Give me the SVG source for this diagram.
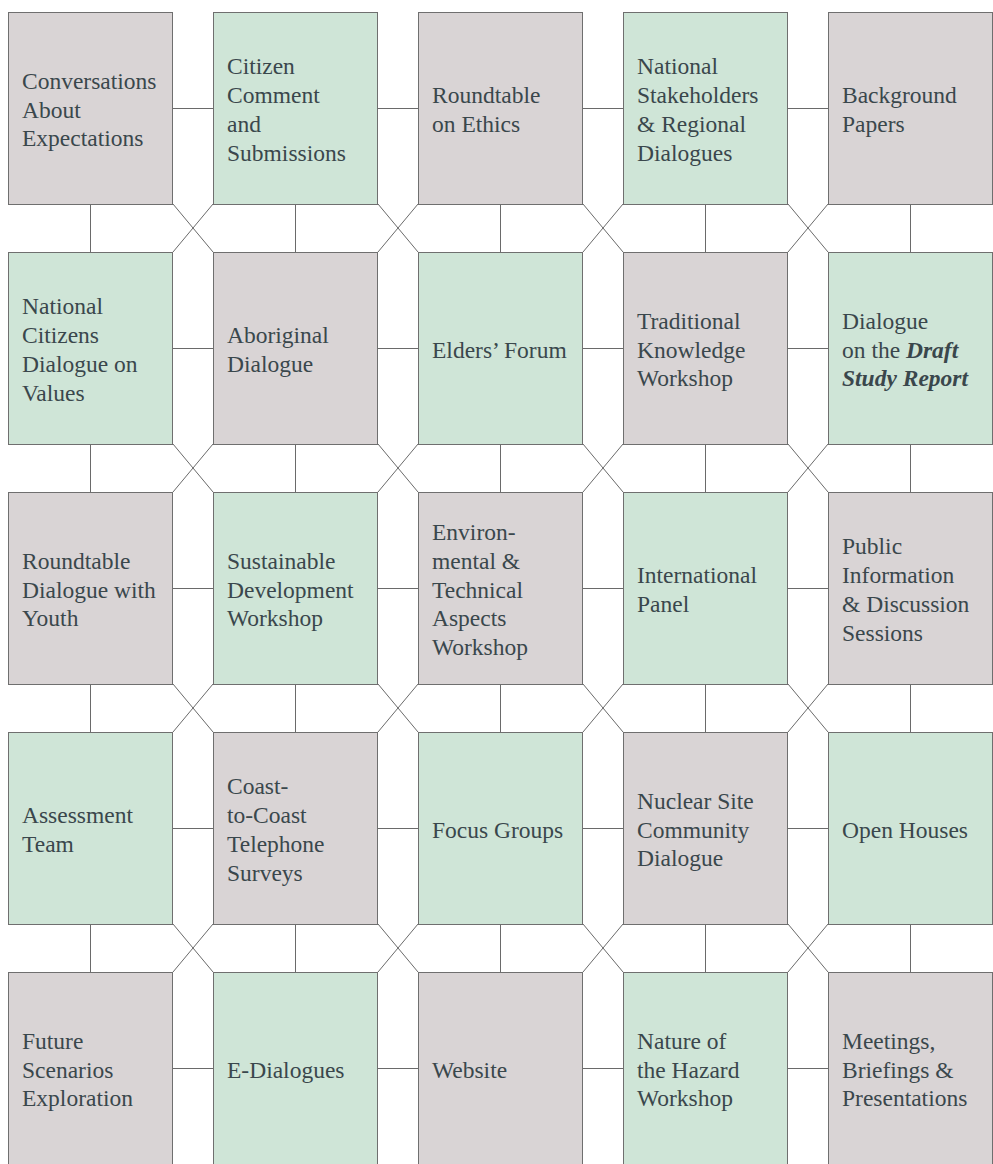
<svg xmlns="http://www.w3.org/2000/svg" width="993" height="1164" viewBox="0 0 993 1164">
<style>
.g{fill:#d9d4d5;stroke:#6f6f6f;stroke-width:1}
.n{fill:#cfe5d7;stroke:#6f6f6f;stroke-width:1}
.c{fill:none;stroke:#6a6a6a;stroke-width:1}
text{font-family:"Liberation Serif","DejaVu Serif",serif;font-size:23.5px;fill:#3a474c}
.bi{font-weight:bold;font-style:italic}
</style>
<rect width="993" height="1164" fill="#ffffff"/>
<g id="connectors" class="c">
<path d="M173 108.5H213M378 108.5H418M583 108.5H623M788 108.5H828
M173 348.5H213M378 348.5H418M583 348.5H623M788 348.5H828
M173 588.5H213M378 588.5H418M583 588.5H623M788 588.5H828
M173 828.5H213M378 828.5H418M583 828.5H623M788 828.5H828
M173 1068.5H213M378 1068.5H418M583 1068.5H623M788 1068.5H828"/>
<path d="M90.5 204V252M295.5 204V252M500.5 204V252M705.5 204V252M910.5 204V252
M90.5 444V492M295.5 444V492M500.5 444V492M705.5 444V492M910.5 444V492
M90.5 684V732M295.5 684V732M500.5 684V732M705.5 684V732M910.5 684V732
M90.5 924V972M295.5 924V972M500.5 924V972M705.5 924V972M910.5 924V972"/>
<path d="M173 204L213 252M213 204L173 252M378 204L418 252M418 204L378 252M583 204L623 252M623 204L583 252M788 204L828 252M828 204L788 252
M173 444L213 492M213 444L173 492M378 444L418 492M418 444L378 492M583 444L623 492M623 444L583 492M788 444L828 492M828 444L788 492
M173 684L213 732M213 684L173 732M378 684L418 732M418 684L378 732M583 684L623 732M623 684L583 732M788 684L828 732M828 684L788 732
M173 924L213 972M213 924L173 972M378 924L418 972M418 924L378 972M583 924L623 972M623 924L583 972M788 924L828 972M828 924L788 972"/>
</g>
<g id="n00"><rect class="g" x="8.5" y="12.5" width="164" height="192"/><text x="22" y="88.7">Conversations<tspan x="22" dy="28.8">About</tspan><tspan x="22" dy="28.8">Expectations</tspan></text></g>
<g id="n01"><rect class="n" x="213.5" y="12.5" width="164" height="192"/><text x="227" y="74.3">Citizen<tspan x="227" dy="28.8">Comment</tspan><tspan x="227" dy="28.8">and</tspan><tspan x="227" dy="28.8">Submissions</tspan></text></g>
<g id="n02"><rect class="g" x="418.5" y="12.5" width="164" height="192"/><text x="432" y="103.1">Roundtable<tspan x="432" dy="28.8">on Ethics</tspan></text></g>
<g id="n03"><rect class="n" x="623.5" y="12.5" width="164" height="192"/><text x="637" y="74.3">National<tspan x="637" dy="28.8">Stakeholders</tspan><tspan x="637" dy="28.8">&amp; Regional</tspan><tspan x="637" dy="28.8">Dialogues</tspan></text></g>
<g id="n04"><rect class="g" x="828.5" y="12.5" width="164" height="192"/><text x="842" y="103.1">Background<tspan x="842" dy="28.8">Papers</tspan></text></g>

<g id="n10"><rect class="n" x="8.5" y="252.5" width="164" height="192"/><text x="22" y="314.3">National<tspan x="22" dy="28.8">Citizens</tspan><tspan x="22" dy="28.8">Dialogue on</tspan><tspan x="22" dy="28.8">Values</tspan></text></g>
<g id="n11"><rect class="g" x="213.5" y="252.5" width="164" height="192"/><text x="227" y="343.1">Aboriginal<tspan x="227" dy="28.8">Dialogue</tspan></text></g>
<g id="n12"><rect class="n" x="418.5" y="252.5" width="164" height="192"/><text x="432" y="357.5">Elders’ Forum</text></g>
<g id="n13"><rect class="g" x="623.5" y="252.5" width="164" height="192"/><text x="637" y="328.7">Traditional<tspan x="637" dy="28.8">Knowledge</tspan><tspan x="637" dy="28.8">Workshop</tspan></text></g>
<g id="n14"><rect class="n" x="828.5" y="252.5" width="164" height="192"/><text x="842" y="328.7">Dialogue<tspan x="842" dy="28.8">on the </tspan><tspan class="bi">Draft</tspan><tspan class="bi" x="842" dy="28.8">Study Report</tspan></text></g>

<g id="n20"><rect class="g" x="8.5" y="492.5" width="164" height="192"/><text x="22" y="568.7">Roundtable<tspan x="22" dy="28.8">Dialogue with</tspan><tspan x="22" dy="28.8">Youth</tspan></text></g>
<g id="n21"><rect class="n" x="213.5" y="492.5" width="164" height="192"/><text x="227" y="568.7">Sustainable<tspan x="227" dy="28.8">Development</tspan><tspan x="227" dy="28.8">Workshop</tspan></text></g>
<g id="n22"><rect class="g" x="418.5" y="492.5" width="164" height="192"/><text x="432" y="539.9">Environ-<tspan x="432" dy="28.8">mental &amp;</tspan><tspan x="432" dy="28.8">Technical</tspan><tspan x="432" dy="28.8">Aspects</tspan><tspan x="432" dy="28.8">Workshop</tspan></text></g>
<g id="n23"><rect class="n" x="623.5" y="492.5" width="164" height="192"/><text x="637" y="583.1">International<tspan x="637" dy="28.8">Panel</tspan></text></g>
<g id="n24"><rect class="g" x="828.5" y="492.5" width="164" height="192"/><text x="842" y="554.3">Public<tspan x="842" dy="28.8">Information</tspan><tspan x="842" dy="28.8">&amp; Discussion</tspan><tspan x="842" dy="28.8">Sessions</tspan></text></g>

<g id="n30"><rect class="n" x="8.5" y="732.5" width="164" height="192"/><text x="22" y="823.1">Assessment<tspan x="22" dy="28.8">Team</tspan></text></g>
<g id="n31"><rect class="g" x="213.5" y="732.5" width="164" height="192"/><text x="227" y="794.3">Coast-<tspan x="227" dy="28.8">to-Coast</tspan><tspan x="227" dy="28.8">Telephone</tspan><tspan x="227" dy="28.8">Surveys</tspan></text></g>
<g id="n32"><rect class="n" x="418.5" y="732.5" width="164" height="192"/><text x="432" y="837.5">Focus Groups</text></g>
<g id="n33"><rect class="g" x="623.5" y="732.5" width="164" height="192"/><text x="637" y="808.7">Nuclear Site<tspan x="637" dy="28.8">Community</tspan><tspan x="637" dy="28.8">Dialogue</tspan></text></g>
<g id="n34"><rect class="n" x="828.5" y="732.5" width="164" height="192"/><text x="842" y="837.5">Open Houses</text></g>

<g id="n40"><rect class="g" x="8.5" y="972.5" width="164" height="200"/><text x="22" y="1048.7">Future<tspan x="22" dy="28.8">Scenarios</tspan><tspan x="22" dy="28.8">Exploration</tspan></text></g>
<g id="n41"><rect class="n" x="213.5" y="972.5" width="164" height="200"/><text x="227" y="1077.5">E-Dialogues</text></g>
<g id="n42"><rect class="g" x="418.5" y="972.5" width="164" height="200"/><text x="432" y="1077.5">Website</text></g>
<g id="n43"><rect class="n" x="623.5" y="972.5" width="164" height="200"/><text x="637" y="1048.7">Nature of<tspan x="637" dy="28.8">the Hazard</tspan><tspan x="637" dy="28.8">Workshop</tspan></text></g>
<g id="n44"><rect class="g" x="828.5" y="972.5" width="164" height="200"/><text x="842" y="1048.7">Meetings,<tspan x="842" dy="28.8">Briefings &amp;</tspan><tspan x="842" dy="28.8">Presentations</tspan></text></g>
</svg>
